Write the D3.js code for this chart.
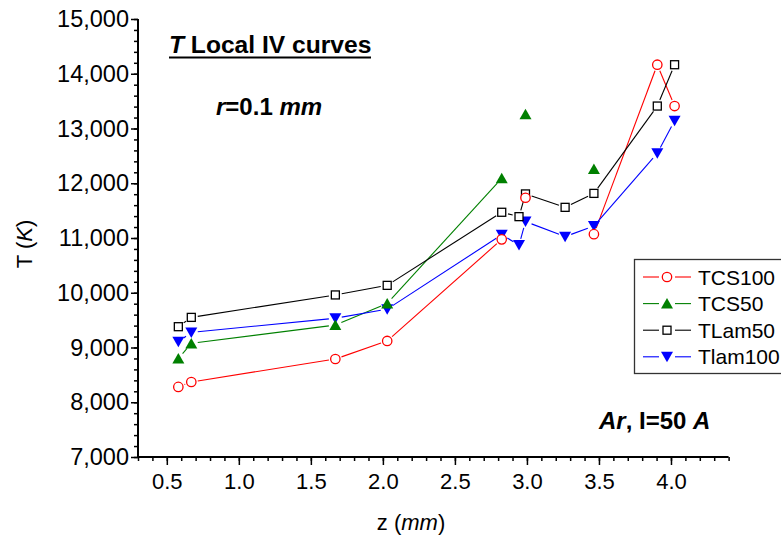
<!DOCTYPE html>
<html><head><meta charset="utf-8">
<script src="https://cdn.jsdelivr.net/npm/d3@7"></script>
<style>body{margin:0;background:#fff}svg{display:block;font-family:Arial,"Liberation Sans",sans-serif}</style>
</head><body>
<svg id="c" width="781" height="535"></svg>
<script>
// ---- data ----
const zVals   = [0.58, 0.67, 1.67, 2.03, 2.825, 2.945, 2.99, 3.265, 3.465, 3.905, 4.025];
const TCS100  = [8280, 8370, 8790, 9120, 10975, null, 11735, null, 11070, 14165, 13410];
const TCS50   = [8800, 9075, 9410, 9805, 12090, null, 13260, null, 12260, null, null];
const TLam50  = [9380, 9550, 9960, 10135, 11470, 11390, 11805, 11560, 11815, 13410, 14165];
const Tlam100 = [9105, 9275, 9535, 9700, 11060, 10870, 11300, 11025, 11220, 12550, 13140];
const seriesNames = ["TCS100", "TCS50", "TLam50", "Tlam100"];
const xTicks = [0.5, 1.0, 1.5, 2.0, 2.5, 3.0, 3.5, 4.0];
const yTicks = [7000, 8000, 9000, 10000, 11000, 12000, 13000, 14000, 15000];

const series = [
  {name: seriesNames[0], vals: TCS100, color: "#ff0000", shape: "circle"},
  {name: seriesNames[1], vals: TCS50, color: "#008000", shape: "up"},
  {name: seriesNames[2], vals: TLam50, color: "#000000", shape: "square"},
  {name: seriesNames[3], vals: Tlam100, color: "#0000ff", shape: "down"}
];

const svg = d3.select("#c");
const x = d3.scaleLinear().domain([0.3, 4.4]).range([138, 728.6]);
const y = d3.scaleLinear().domain([7000, 15000]).range([457, 19]);

// axes
const gx = svg.append("g").attr("transform", "translate(0,457)");
gx.call(d3.axisBottom(x).tickValues(d3.range(3, 45).map(d => d / 10)).tickSize(4).tickFormat(""));
gx.call(g => g.selectAll(".tick line").attr("stroke-width", 1.5));
const gx2 = svg.append("g").attr("transform", "translate(0,457)");
gx2.call(d3.axisBottom(x).tickValues(xTicks).tickSize(8).tickPadding(8).tickFormat(d3.format(".1f")));
gx2.selectAll(".tick line").attr("stroke-width", 1.5);
gx2.selectAll("text").attr("font-size", 22).attr("fill", "#000").attr("font-family", "Arial, 'Liberation Sans', sans-serif");
svg.selectAll(".domain").remove();

const gy = svg.append("g").attr("transform", "translate(138,0)");
gy.call(d3.axisLeft(y).tickValues(d3.range(7000, 15001, 200)).tickSize(4).tickFormat(""));
gy.selectAll(".tick line").attr("stroke-width", 1.5);
const gy2 = svg.append("g").attr("transform", "translate(138,0)");
gy2.call(d3.axisLeft(y).tickValues(yTicks).tickSize(7).tickPadding(2).tickFormat(d3.format(",")));
gy2.selectAll(".tick line").attr("stroke-width", 1.5);
gy2.selectAll("text").attr("font-size", 23.5).attr("fill", "#000").attr("font-family", "Arial, 'Liberation Sans', sans-serif");
svg.selectAll(".domain").remove();
svg.append("line").attr("x1", 138).attr("x2", 138).attr("y1", y(15000)).attr("y2", 457.75).attr("stroke", "#000").attr("stroke-width", 2);
svg.append("line").attr("x1", 137).attr("x2", x(4.4)).attr("y1", 457).attr("y2", 457).attr("stroke", "#000").attr("stroke-width", 2);

// axis titles
const yt = svg.append("text").attr("transform", "translate(32,244) rotate(-90)").attr("text-anchor", "middle").attr("font-size", 22);
yt.append("tspan").text("T (");
yt.append("tspan").attr("font-style", "italic").text("K");
yt.append("tspan").text(")");
const xt = svg.append("text").attr("x", 411).attr("y", 530).attr("text-anchor", "middle").attr("font-size", 22);
xt.append("tspan").text("z (");
xt.append("tspan").attr("font-style", "italic").text("mm");
xt.append("tspan").text(")");

// marker drawing
function marker(g, shape, color, cx, cy) {
  if (shape === "circle") {
    g.append("circle").attr("cx", cx).attr("cy", cy).attr("r", 4.7).attr("fill", "#fff").attr("stroke", color).attr("stroke-width", 1.3);
  } else if (shape === "square") {
    g.append("rect").attr("x", cx - 4).attr("y", cy - 4).attr("width", 8).attr("height", 8).attr("fill", "#fff").attr("stroke", color).attr("stroke-width", 1.3);
  } else if (shape === "up") {
    g.append("path").attr("d", `M${cx},${cy - 5.5}L${cx + 6},${cy + 5}L${cx - 6},${cy + 5}Z`).attr("fill", color);
  } else {
    g.append("path").attr("d", `M${cx - 6},${cy - 5}L${cx + 6},${cy - 5}L${cx},${cy + 5.5}Z`).attr("fill", color);
  }
}

// lines with gaps around markers
const gap = 6.5;
const lineG = svg.append("g");
series.forEach(s => {
  for (let i = 0; i < zVals.length - 1; i++) {
    const a = s.vals[i], b = s.vals[i + 1];
    if (a == null || b == null) continue;
    const x1 = x(zVals[i]), y1 = y(a), x2 = x(zVals[i + 1]), y2 = y(b);
    const L = Math.hypot(x2 - x1, y2 - y1);
    if (L <= 2 * gap) continue;
    const ux = (x2 - x1) / L, uy = (y2 - y1) / L;
    lineG.append("line")
      .attr("x1", x1 + ux * gap).attr("y1", y1 + uy * gap)
      .attr("x2", x2 - ux * gap).attr("y2", y2 - uy * gap)
      .attr("stroke", s.color).attr("stroke-width", 1.1);
  }
});
const markG = svg.append("g");
[3, 2, 1, 0].forEach(k => {
  const s = series[k];
  s.vals.forEach((v, i) => { if (v != null) marker(markG, s.shape, s.color, x(zVals[i]), y(v)); });
});

// legend
const lg = svg.append("g");
lg.append("rect").attr("x", 634.5).attr("y", 259.5).attr("width", 160).attr("height", 114).attr("fill", "#fff").attr("stroke", "#333").attr("stroke-width", 1.3);
series.forEach((s, i) => {
  const cy = 277 + i * 26.6;
  lg.append("line").attr("x1", 643).attr("x2", 659).attr("y1", cy).attr("y2", cy).attr("stroke", s.color).attr("stroke-width", 1.1);
  lg.append("line").attr("x1", 675).attr("x2", 691).attr("y1", cy).attr("y2", cy).attr("stroke", s.color).attr("stroke-width", 1.1);
  marker(lg, s.shape, s.color, 667, cy);
  lg.append("text").attr("x", 698).attr("y", cy + 7.5).attr("font-size", 21).text(s.name);
});

// annotations
const t1 = svg.append("text").attr("x", 169).attr("y", 53).attr("font-size", 24.6).attr("font-weight", "bold");
t1.append("tspan").attr("font-style", "italic").text("T");
t1.append("tspan").text(" Local IV curves");
svg.append("line").attr("x1", 169).attr("x2", 371).attr("y1", 57.5).attr("y2", 57.5).attr("stroke", "#000").attr("stroke-width", 2.2);
const t2 = svg.append("text").attr("x", 216).attr("y", 115).attr("font-size", 24).attr("font-weight", "bold");
t2.append("tspan").attr("font-style", "italic").text("r");
t2.append("tspan").text("=0.1 ");
t2.append("tspan").attr("font-style", "italic").text("mm");
const t3 = svg.append("text").attr("x", 599).attr("y", 429).attr("font-size", 24).attr("font-weight", "bold");
t3.append("tspan").attr("font-style", "italic").text("Ar");
t3.append("tspan").text(", I=50 ");
t3.append("tspan").attr("font-style", "italic").text("A");
</script>
</body></html>
